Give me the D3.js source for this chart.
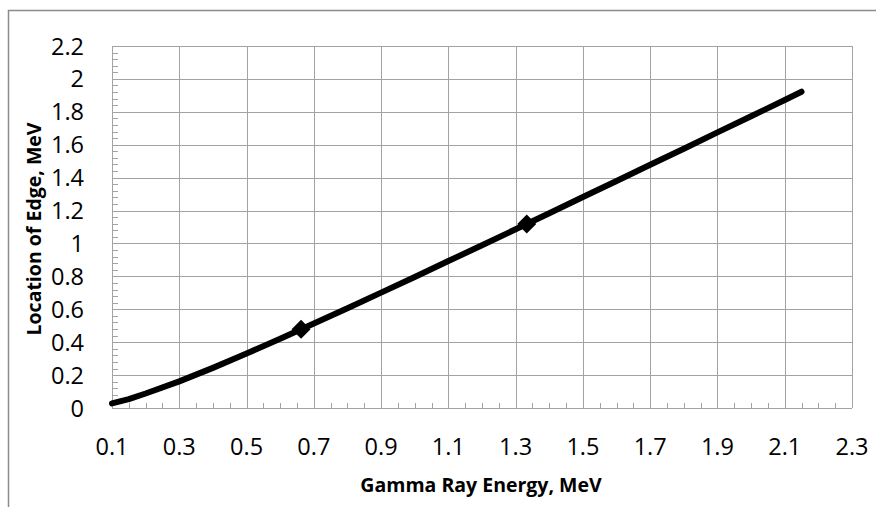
<!DOCTYPE html>
<html><head><meta charset="utf-8">
<script src="https://cdn.jsdelivr.net/npm/d3@7"></script>
<style>body{margin:0;background:#fff}svg{display:block}</style>
</head><body>
<script>
const energy = [0.1,0.15,0.2,0.3,0.4,0.5,0.6,0.7,0.8,0.9,1.0,1.1,1.2,1.3,1.4,1.5,1.6,1.7,1.8,1.9,2.0,2.1,2.15];
const edge   = [0.028,0.054,0.088,0.162,0.244,0.331,0.421,0.513,0.606,0.701,0.796,0.893,0.989,1.086,1.184,1.282,1.380,1.478,1.576,1.675,1.773,1.872,1.922];
const markerEnergy = [0.662,1.333];
const markerEdge = [0.478,1.118];
const xTicks = [0.1,0.3,0.5,0.7,0.9,1.1,1.3,1.5,1.7,1.9,2.1,2.3];
const yTicks = [0,0.2,0.4,0.6,0.8,1,1.2,1.4,1.6,1.8,2,2.2];
const xTitle = "Gamma Ray Energy, MeV";
const yTitle = "Location of Edge, MeV";

const W=876,H=507;
const m={l:112,t:46,r:852,b:408};
const svg=d3.select("body").append("svg").attr("width",W).attr("height",H);
const font="'Open Sans', Lato, sans-serif";
const x=d3.scaleLinear().domain([0.1,2.3]).range([m.l,m.r]);
const y=d3.scaleLinear().domain([0,2.2]).range([m.b,m.t]);
const grid="#a3a3a3";

// outer border (top + left)
svg.append("path").attr("d",`M8.5,${H} V10.5 H${W}`).attr("fill","none").attr("stroke","#8c8c8c").attr("stroke-width",1.5);

// gridlines
svg.append("g").selectAll("line").data(xTicks).join("line")
 .attr("x1",d=>Math.round(x(d))+0.5).attr("x2",d=>Math.round(x(d))+0.5).attr("y1",m.t).attr("y2",m.b)
 .attr("stroke",grid).attr("stroke-width",1);
svg.append("g").selectAll("line").data(yTicks).join("line")
 .attr("y1",d=>Math.round(y(d))+0.5).attr("y2",d=>Math.round(y(d))+0.5).attr("x1",m.l).attr("x2",m.r)
 .attr("stroke",grid).attr("stroke-width",1);

// minor ticks
const xMinor=d3.range(0.15,2.3,0.05).filter(v=>Math.abs(((v-0.1)/0.2)-Math.round((v-0.1)/0.2))>0.01);
svg.append("g").selectAll("line").data(xMinor).join("line")
 .attr("x1",d=>Math.round(x(d))+0.5).attr("x2",d=>Math.round(x(d))+0.5).attr("y1",m.b).attr("y2",m.b-5)
 .attr("stroke",grid);
const yMinor=d3.range(0.04,2.2,0.04).filter(v=>Math.abs(v/0.2-Math.round(v/0.2))>0.01);
svg.append("g").selectAll("line").data(yMinor).join("line")
 .attr("y1",d=>Math.round(y(d))+0.5).attr("y2",d=>Math.round(y(d))+0.5).attr("x1",m.l).attr("x2",m.l+6)
 .attr("stroke",grid);

// tick labels
svg.append("g").selectAll("text").data(xTicks).join("text")
 .attr("x",d=>x(d)).attr("y",455).attr("text-anchor","middle")
 .attr("font-family",font).attr("font-size",23.5).attr("fill","#000").text(d=>d.toFixed(1));
svg.append("g").selectAll("text").data(yTicks).join("text")
 .attr("x",84).attr("y",d=>y(d)+8.5).attr("text-anchor","end")
 .attr("font-family",font).attr("font-size",23.5).attr("fill","#000").text(d=>String(d));

// titles
svg.append("text").attr("x",481).attr("y",492).attr("text-anchor","middle")
 .attr("font-family",font).attr("font-weight","bold").attr("font-size",19.5).text(xTitle);
svg.append("text").attr("transform",`translate(41,229) rotate(-90)`).attr("text-anchor","middle")
 .attr("font-family",font).attr("font-weight","bold").attr("font-size",19.5).text(yTitle);

// line
const pts=energy.map((e,i)=>[e,edge[i]]);
svg.append("path").datum(pts).attr("fill","none").attr("stroke","#000").attr("stroke-width",6)
 .attr("stroke-linecap","round").attr("stroke-linejoin","round")
 .attr("d",d3.line().x(d=>x(d[0])).y(d=>y(d[1])));

// markers
svg.append("g").selectAll("path").data(markerEnergy.map((e,i)=>[e,markerEdge[i]])).join("path")
 .attr("transform",d=>`translate(${x(d[0])},${y(d[1])})`)
 .attr("d",d3.symbol().type(d3.symbolDiamond2).size(230)).attr("fill","#000");
</script>
</body></html>
